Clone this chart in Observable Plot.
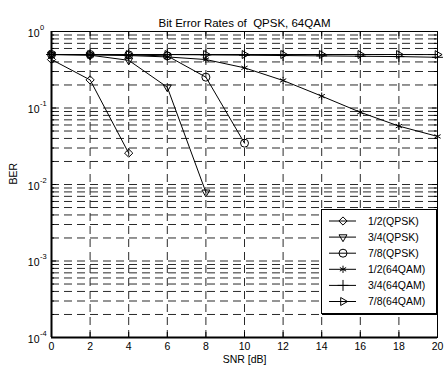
<!DOCTYPE html>
<html><head><meta charset="utf-8">
<script src="https://cdn.jsdelivr.net/npm/d3@7"></script>
<script src="https://cdn.jsdelivr.net/npm/@observablehq/plot@0.6"></script>
<style>
body{margin:0;background:#fff;font-family:"Liberation Sans",Arial,sans-serif;}
#wrap{position:relative;width:445px;height:367px;overflow:hidden;}
#legend{position:absolute;left:321px;top:209px;width:114px;height:103px;border:1px solid #000;background:#fff;box-shadow:1px 1px 0 #000;}
</style></head><body><div id="wrap"></div>
<script>
// ---- data ----
const seriesNames = ["1/2(QPSK)", "3/4(QPSK)", "7/8(QPSK)", "1/2(64QAM)", "3/4(64QAM)", "7/8(64QAM)"];
const snr = [0, 2, 4, 6, 8, 10, 12, 14, 16, 18, 20];
const ber_12_qpsk  = [0.43, 0.233, 0.0257];
const ber_34_qpsk  = [0.5, 0.49, 0.42, 0.187, 0.0079];
const ber_78_qpsk  = [0.5, 0.5, 0.495, 0.48, 0.253, 0.0347];
const ber_12_64qam = [0.5, 0.495, 0.485, 0.465, 0.43, 0.335, 0.229, 0.143, 0.088, 0.058, 0.0425];
const ber_34_64qam = [0.5, 0.5, 0.5, 0.5, 0.495, 0.49, 0.485, 0.48, 0.475, 0.47, 0.46];
const ber_78_64qam = [0.5, 0.5, 0.5, 0.5, 0.5, 0.5, 0.5, 0.5, 0.5, 0.5, 0.499];
const xTicks = [0, 2, 4, 6, 8, 10, 12, 14, 16, 18, 20];
const yMajor = [1e-4, 1e-3, 1e-2, 1e-1, 1];
const yExp = ["-4", "-3", "-2", "-1", "0"];
const titleText = "Bit Error Rates of  QPSK, 64QAM";
const xLabel = "SNR [dB]";
const yLabel = "BER";

// ---- styles per series ----
const styles = [
  {symbol: "diamond2", r: 3.7, rotate: 0},
  {symbol: "triangle2", r: 3.8, rotate: 180},
  {symbol: "circle", r: 4, rotate: 0},
  {symbol: "asterisk", r: 3.4, rotate: 0},
  {symbol: "plus", r: 3.6, rotate: 0},
  {symbol: "triangle2", r: 3.8, rotate: 90}
];
const allBer = [ber_12_qpsk, ber_34_qpsk, ber_78_qpsk, ber_12_64qam, ber_34_64qam, ber_78_64qam];
const rows = [];
allBer.forEach((arr, i) => arr.forEach((v, j) => rows.push({series: seriesNames[i], x: snr[j], y: v})));

const yMinor = [];
for (let e = -4; e <= -1; e++) for (let m = 2; m <= 9; m++) yMinor.push(m * Math.pow(10, e));
const yGrid = yMinor.concat([1e-3, 1e-2, 1e-1]);

const W = 445, H = 367, mL = 51, mR = 8, mT = 31, mB = 30;
const pH = H - mT - mB, pW = W - mL - mR;
const gridStyle = {stroke: "#2a2a2a", strokeWidth: 1, strokeDasharray: "8,5"};

const chart = Plot.plot({
  width: W, height: H,
  marginLeft: mL, marginRight: mR, marginTop: mT, marginBottom: mB,
  style: {fontFamily: "Liberation Sans, Arial, sans-serif", fontSize: "10.5px", color: "#000", background: "#fff"},
  x: {domain: [0, 20]},
  y: {type: "log", domain: [1e-4, 1]},
  marks: [
    Plot.ruleY(yGrid, {y: d => d, ...gridStyle}),
    Plot.ruleX(xTicks.slice(1, -1), {x: d => d, ...gridStyle}),
    // inward ticks
    Plot.tickX(xTicks, {x: d => d, insetTop: pH - 5, stroke: "#000"}),
    Plot.tickX(xTicks, {x: d => d, insetBottom: pH - 5, stroke: "#000"}),
    Plot.tickY(yMajor, {y: d => d, insetRight: pW - 5, stroke: "#000"}),
    Plot.tickY(yMajor, {y: d => d, insetLeft: pW - 5, stroke: "#000"}),
    Plot.tickY(yMinor, {y: d => d, insetRight: pW - 3, stroke: "#000"}),
    Plot.tickY(yMinor, {y: d => d, insetLeft: pW - 3, stroke: "#000"}),
    Plot.axisX(xTicks, {tickSize: 0, tickPadding: 5, tickFormat: d => String(d), label: null, fontSize: 10.5}),
    Plot.axisY({ticks: [], label: null, tickSize: 0}),
    // y tick labels as 10 with superscript exponent
    Plot.text(yMajor, {y: d => d, frameAnchor: "left", dx: -12, dy: 2, text: () => "10", textAnchor: "end", fontSize: 10.5}),
    Plot.text(yMajor, {y: d => d, frameAnchor: "left", dx: -11.5, dy: -4, text: (d, i) => yExp[i], textAnchor: "start", fontSize: 7.5}),
    // data
    Plot.line(rows, {x: "x", y: "y", z: "series", stroke: "#000", strokeWidth: 1}),
    ...seriesNames.map((s, i) => Plot.dot(rows.filter(r => r.series === s), {
      x: "x", y: "y", symbol: styles[i].symbol, r: styles[i].r, rotate: styles[i].rotate,
      stroke: "#000", fill: "none", strokeWidth: 1
    })),
    Plot.frame({stroke: "#000", strokeWidth: 1}),
    Plot.ruleY([1e-4], {stroke: "#000", strokeWidth: 2}),
    Plot.ruleX([0], {stroke: "#000", strokeWidth: 2}),
    // titles
    Plot.text([titleText], {frameAnchor: "top", dy: -13, text: d => d, fontSize: 11.5}),
    Plot.text([xLabel], {frameAnchor: "bottom", dy: 25, text: d => d, fontSize: 10.5}),
    Plot.text([yLabel], {frameAnchor: "left", dx: -38, text: d => d, rotate: -90, fontSize: 10.5})
  ]
});
const wrap = document.getElementById("wrap");
wrap.appendChild(chart);

// ---- legend ----
const leg = document.createElement("div");
leg.id = "legend";
wrap.appendChild(leg);
const symMap = {diamond2: d3.symbolDiamond2, triangle2: d3.symbolTriangle2, circle: d3.symbolCircle, asterisk: d3.symbolAsterisk, plus: d3.symbolPlus};
const lsvg = d3.select(leg).append("svg").attr("width", 114).attr("height", 103)
  .style("font-family", "Liberation Sans, Arial, sans-serif").style("font-size", "10.5px");
seriesNames.forEach((s, i) => {
  const cy = 11 + i * 16.1;
  const g = lsvg.append("g").attr("transform", `translate(0,${cy})`);
  g.append("line").attr("x1", 7).attr("x2", 34).attr("y1", 0).attr("y2", 0).attr("stroke", "#000");
  const st = styles[i];
  g.append("path").attr("d", d3.symbol(symMap[st.symbol], Math.PI * st.r * st.r)())
    .attr("transform", `translate(21,0) rotate(${st.rotate})`)
    .attr("fill", "none").attr("stroke", "#000");
  g.append("text").attr("x", 46).attr("y", 0).attr("dy", "0.35em").text(s);
});
</script></body></html>
